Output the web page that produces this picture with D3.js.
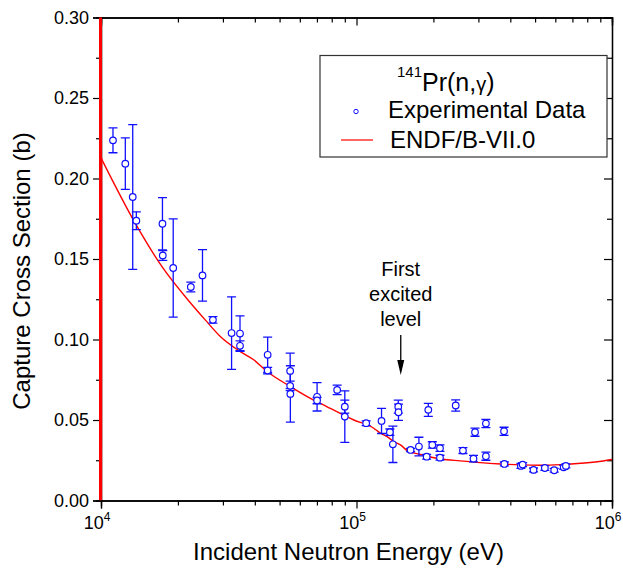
<!DOCTYPE html>
<html>
<head>
<meta charset="utf-8">
<script src="https://cdn.jsdelivr.net/npm/d3@7/dist/d3.min.js"></script>
<style>
  html, body { margin: 0; padding: 0; background: #fff; }
  svg { display: block; font-family: "Liberation Sans", Arial, sans-serif; }
</style>
</head>
<body>
<svg id="chart" width="623" height="569"></svg>
<script>
// Measured 141Pr(n,γ) capture cross sections (energy in eV, sigma and uncertainty in barns)
const expEnergy = [1.114e4, 1.245e4, 1.331e4, 1.375e4, 1.74e4, 1.745e4, 1.917e4, 2.247e4, 2.496e4, 2.742e4,
  3.244e4, 3.50e4, 3.50e4, 4.49e4, 4.49e4, 5.50e4, 5.50e4, 5.51e4, 7.01e4, 7.01e4,
  8.40e4, 9.00e4, 9.00e4, 1.091e5, 1.253e5, 1.351e5, 1.388e5, 1.457e5, 1.46e5, 1.628e5,
  1.755e5, 1.882e5, 1.910e5, 1.98e5, 2.122e5, 2.122e5, 2.445e5, 2.61e5, 2.87e5, 2.91e5,
  3.21e5, 3.21e5, 3.78e5, 3.79e5, 4.40e5, 4.47e5, 4.93e5, 5.46e5, 5.94e5, 6.47e5, 6.60e5];
const expSigma = [0.2237, 0.2092, 0.1885, 0.1738, 0.1719, 0.1522, 0.1444, 0.1326, 0.1398, 0.1122,
  0.1040, 0.1037, 0.0961, 0.0905, 0.0807, 0.0805, 0.0712, 0.0662, 0.0644, 0.0621,
  0.0687, 0.0583, 0.0521, 0.0480, 0.0494, 0.0424, 0.0349, 0.0583, 0.0548, 0.0314,
  0.0335, 0.0272, 0.0563, 0.0345, 0.0325, 0.0266, 0.0590, 0.0310, 0.0260, 0.0424,
  0.0478, 0.0275, 0.0430, 0.0227, 0.0215, 0.0223, 0.0190, 0.0202, 0.0188, 0.0206, 0.0215];
const expError = [0.0077, 0.0160, 0.0450, 0.0055, 0.0162, 0.0030, 0.0305, 0.0030, 0.0160, 0.0020,
  0.0225, 0.0110, 0.0030, 0.0110, 0.0020, 0.0110, 0.0030, 0.0175, 0.0088, 0.0020,
  0.0030, 0.0040, 0.0160, 0.0015, 0.0078, 0.0020, 0.0113, 0.0040, 0.0050, 0.0010,
  0.0058, 0.0015, 0.0040, 0.0020, 0.0020, 0.0015, 0.0035, 0.0018, 0.0020, 0.0025,
  0.0025, 0.0025, 0.0025, 0.0012, 0.0015, 0.0012, 0.0012, 0.0015, 0.0012, 0.0012, 0.0012];

// ENDF/B-VII.0 evaluated cross section: resolved resonances just below 10 keV, then the smooth part
const endfEnergy = [9905, 9915, 9925, 9935, 9945, 9955, 9965, 9975, 9985, 1.0e4,
  1.359e4, 1.73e4, 2.233e4, 2.558e4, 2.93e4, 3.51e4, 3.96e4, 4.466e4, 5.51e4, 6.60e4,
  7.22e4, 9.76e4, 1.168e5, 1.24e5, 1.317e5, 1.40e5, 1.486e5, 1.58e5, 1.78e5, 2.14e5,
  2.55e5, 3.06e5, 3.66e5, 4.37e5, 5.27e5, 6.31e5, 7.55e5, 9.07e5, 1.0e6];
const endfSigma = [0.0, 0.40, 0.0, 0.40, 0.0, 0.40, 0.0, 0.40, 0.0, 0.2128,
  0.1724, 0.1454, 0.1230, 0.1122, 0.1019, 0.0925, 0.0874, 0.0801, 0.0708, 0.0635,
  0.0604, 0.0500, 0.0449, 0.0418, 0.0397, 0.0366, 0.0345, 0.0310, 0.0286, 0.0258,
  0.0246, 0.0235, 0.0227, 0.0221, 0.0219, 0.0223, 0.0231, 0.0244, 0.0255];

const yTicks = [0.00, 0.05, 0.10, 0.15, 0.20, 0.25, 0.30];
const xDecades = [1e4, 1e5, 1e6];
const annotationLines = ["First", "excited", "level"];
const arrowEnergy = 1.49e5;

(function draw() {
  const svg = d3.select("#chart");
  const pL = 101, pR = 612, pT = 17.5, pB = 500.5;

  const x = d3.scaleLog().domain([1e4, 1e6]).range([pL, pR]);
  const y = d3.scaleLinear().domain([0, 0.30]).range([pB, pT]);

  const blue = "#1010ff";
  const red = "#ff0000";

  // clip for the data layer (slightly wider on the left so the resonance band shows)
  svg.append("clipPath").attr("id", "plotClip")
    .append("rect").attr("x", pL - 2).attr("y", pT).attr("width", pR - pL + 2).attr("height", pB - pT);

  // minor tick values
  const xMinor = [];
  [1e4, 1e5].forEach(d => { for (let k = 2; k <= 9; k++) xMinor.push(d * k); });
  const yMinor = d3.range(0.025, 0.30, 0.05);

  function styleAxis(g) {
    g.selectAll(".domain").attr("stroke", "#000").attr("stroke-width", 1.3);
    g.selectAll(".tick line").attr("stroke", "#000").attr("stroke-width", 1.2);
  }

  // bottom axis
  const gx = svg.append("g").attr("transform", `translate(0,${pB})`);
  gx.call(d3.axisBottom(x).tickValues(xDecades).tickSize(8).tickFormat(() => ""));
  gx.append("g").call(d3.axisBottom(x).tickValues(xMinor).tickSize(5).tickFormat(() => ""));
  styleAxis(gx);

  // decade labels as 10 with superscript exponent
  const xl = svg.append("g").attr("font-size", 18).attr("fill", "#000");
  xDecades.forEach(v => {
    const t = xl.append("text").attr("x", x(v) - 4).attr("y", pB + 28).attr("text-anchor", "middle");
    t.append("tspan").text("10");
    t.append("tspan").attr("font-size", 12).attr("dy", -8).text(String(Math.round(Math.log10(v))));
  });

  // left axis
  const gy = svg.append("g").attr("transform", `translate(${pL},0)`);
  gy.call(d3.axisLeft(y).tickValues(yTicks).tickSize(8).tickPadding(4).tickFormat(d3.format(".2f")));
  gy.append("g").call(d3.axisLeft(y).tickValues(yMinor).tickSize(5).tickFormat(() => ""));
  styleAxis(gy);
  gy.selectAll(".tick text").attr("font-size", 18).attr("font-family", "Liberation Sans, Arial, sans-serif").attr("fill", "#000");

  // top axis (ticks pointing in)
  const gt = svg.append("g").attr("transform", `translate(0,${pT})`);
  gt.call(d3.axisTop(x).tickValues(xDecades).tickSize(-8).tickFormat(() => ""));
  gt.append("g").call(d3.axisTop(x).tickValues(xMinor).tickSize(-5).tickFormat(() => ""));
  styleAxis(gt);

  // right axis (ticks pointing in)
  const gr = svg.append("g").attr("transform", `translate(${pR},0)`);
  gr.call(d3.axisRight(y).tickValues(yTicks).tickSize(-8).tickFormat(() => ""));
  gr.append("g").call(d3.axisRight(y).tickValues(yMinor).tickSize(-5).tickFormat(() => ""));
  styleAxis(gr);

  // axis titles
  svg.append("text").attr("x", (pL + pR) / 2 - 8).attr("y", 560)
    .attr("text-anchor", "middle").attr("font-size", 24).attr("fill", "#000")
    .text("Incident Neutron Energy (eV)");
  svg.append("text").attr("transform", `translate(30,${(pT + pB) / 2 + 12}) rotate(-90)`)
    .attr("text-anchor", "middle").attr("font-size", 24).attr("fill", "#000")
    .text("Capture Cross Section (b)");

  // data layer
  const plot = svg.append("g").attr("clip-path", "url(#plotClip)");

  const endf = endfEnergy.map((e, i) => [e, endfSigma[i]]);
  plot.append("path")
    .attr("d", d3.line().x(d => x(d[0])).y(d => y(d[1])).curve(d3.curveMonotoneX)(endf.slice(9)))
    .attr("fill", "none").attr("stroke", red).attr("stroke-width", 1.4);
  // dense resonance structure renders as a solid band along the left edge
  plot.append("path")
    .attr("d", d3.line().x(d => x(d[0])).y(d => y(d[1]))(endf.slice(0, 10)))
    .attr("fill", "none").attr("stroke", red).attr("stroke-width", 2.6);

  const pts = expEnergy.map((e, i) => ({ e, s: expSigma[i], err: expError[i] }));
  const capW = 4.5;
  const eb = plot.append("g").attr("stroke", blue).attr("stroke-width", 1.3).attr("fill", "none");
  pts.forEach(p => {
    const cx = x(p.e), y1 = y(p.s + p.err), y2 = y(p.s - p.err);
    eb.append("line").attr("x1", cx).attr("x2", cx).attr("y1", y1).attr("y2", y2);
    eb.append("line").attr("x1", cx - capW).attr("x2", cx + capW).attr("y1", y1).attr("y2", y1);
    eb.append("line").attr("x1", cx - capW).attr("x2", cx + capW).attr("y1", y2).attr("y2", y2);
  });
  plot.append("g").selectAll("circle").data(pts).join("circle")
    .attr("cx", d => x(d.e)).attr("cy", d => y(d.s)).attr("r", 3.3)
    .attr("fill", "#fff").attr("stroke", blue).attr("stroke-width", 1.2);

  // annotation for the first excited level
  const ax = x(arrowEnergy);
  const ann = svg.append("g").attr("font-size", 20).attr("fill", "#000").attr("text-anchor", "middle");
  annotationLines.forEach((s, i) => ann.append("text").attr("x", ax).attr("y", 276 + i * 25).text(s));
  svg.append("line").attr("x1", ax).attr("x2", ax).attr("y1", 335).attr("y2", 362)
    .attr("stroke", "#000").attr("stroke-width", 1.3);
  svg.append("path").attr("d", `M${ax - 3.5},360 L${ax + 3.5},360 L${ax},375 Z`).attr("fill", "#000");

  // legend
  const lg = svg.append("g");
  lg.append("rect").attr("x", 320).attr("y", 55.5).attr("width", 287).attr("height", 101.5)
    .attr("fill", "#fff").attr("stroke", "#333").attr("stroke-width", 1.2);
  const title = lg.append("text").attr("x", 397).attr("y", 91).attr("font-size", 25).attr("fill", "#000");
  title.append("tspan").attr("font-size", 15).attr("dy", -14).text("141");
  title.append("tspan").attr("dy", 14).text("Pr(n,");
  title.append("tspan").attr("font-size", 20).text("γ");
  title.append("tspan").text(")");
  lg.append("circle").attr("cx", 356).attr("cy", 111.5).attr("r", 2.2)
    .attr("fill", "#fff").attr("stroke", blue).attr("stroke-width", 1);
  lg.append("text").attr("x", 388).attr("y", 118).attr("font-size", 24).attr("fill", "#000").text("Experimental Data");
  lg.append("line").attr("x1", 341).attr("x2", 373).attr("y1", 140).attr("y2", 140)
    .attr("stroke", red).attr("stroke-width", 1.2);
  lg.append("text").attr("x", 390).attr("y", 148).attr("font-size", 24).attr("fill", "#000").text("ENDF/B-VII.0");
})();
</script>
</body>
</html>
